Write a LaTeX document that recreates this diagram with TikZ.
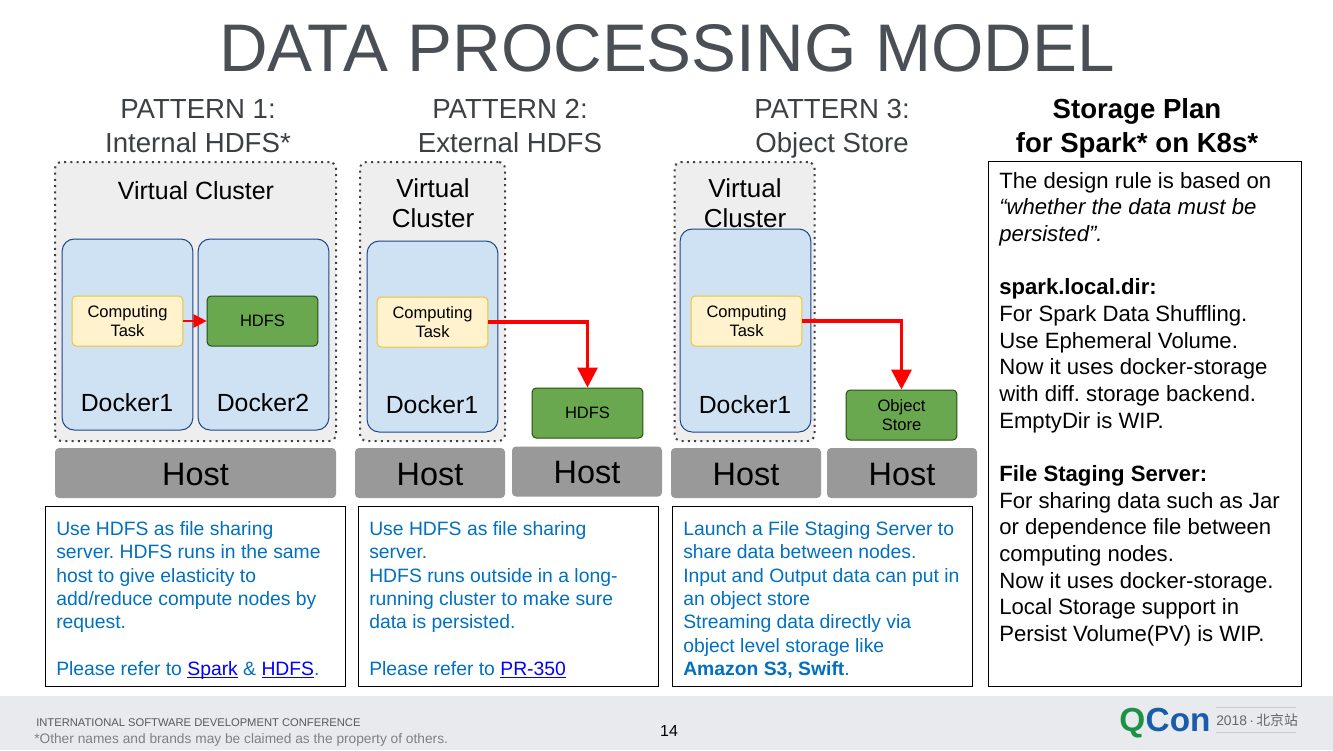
\documentclass[tikz,border=0pt]{standalone}
\usepackage{fontspec}
\setmainfont{Liberation Sans}
\newfontfamily\cjkfont{Noto Sans CJK SC}
\definecolor{titlegray}{RGB}{74, 79, 85}
\definecolor{headgray}{RGB}{60, 64, 67}
\definecolor{clusterfill}{RGB}{238, 238, 238}
\definecolor{dockerfill}{RGB}{207, 226, 243}
\definecolor{dockerline}{RGB}{28, 69, 135}
\definecolor{taskfill}{RGB}{255, 242, 204}
\definecolor{taskline}{RGB}{241, 194, 50}
\definecolor{storefill}{RGB}{106, 168, 79}
\definecolor{storeline}{RGB}{39, 78, 19}
\definecolor{hostfill}{RGB}{153, 153, 153}
\definecolor{noteblue}{RGB}{0, 112, 192}
\definecolor{linkblue}{RGB}{0, 0, 255}
\definecolor{footfill}{RGB}{232, 234, 237}
\definecolor{qgreen}{RGB}{30, 145, 70}
\definecolor{qblue}{RGB}{24, 92, 170}
\usetikzlibrary{arrows.meta, positioning}
\frenchspacing
\newcommand{\reflink}[1]{{\color{linkblue}\underline{\smash{#1}}}}
\tikzset{
  cluster/.style={draw=black!75, fill=clusterfill, rounded corners=5pt, line width=1.5pt, dash pattern=on 1.5pt off 3.2pt, outer sep=0pt},
  docker/.style={draw=dockerline, fill=dockerfill, rounded corners=9pt, line width=0.75pt, minimum width=98pt},
  dockerlabel/.style={font=\fontsize{18.6}{23}\selectfont},
  task/.style={draw=taskline, fill=taskfill, rounded corners=3pt, line width=0.75pt, minimum width=83pt, minimum height=37.5pt, align=center, inner sep=0pt, font=\fontsize{12.4}{14.7}\selectfont},
  store/.style={draw=storeline, fill=storefill, rounded corners=3pt, line width=0.75pt, minimum width=83pt, minimum height=37.5pt, align=center, inner sep=0pt, font=\fontsize{12.4}{14.7}\selectfont},
  host/.style={fill=hostfill, rounded corners=3pt, minimum height=37.5pt, inner sep=0pt, text height=18.6pt, text depth=0pt, font=\fontsize{24.3}{30}\selectfont},
  head/.style={align=center, text=headgray, inner sep=0pt, font=\fontsize{20.7}{25.5}\selectfont},
  frame/.style={draw=black, line width=0.75pt, anchor=north west, minimum height=135.3pt, minimum width=225pt},
  note/.style={anchor=north west, align=left, inner sep=0pt, text=noteblue, font=\fontsize{14.5}{17.55}\selectfont},
  link/.style={-{Triangle[length=15pt, width=15pt]}, red, line width=2.6pt},
}
\begin{document}
\begin{tikzpicture}[x=0.75pt, y=-0.75pt]
  \useasboundingbox (0,0) rectangle (1333,750);
  \fill[white] (0,0) rectangle (1333,750);
  \fill[footfill] (0,696) rectangle (1333,750);
  \node[text=titlegray, font=\fontsize{50.5}{60}\selectfont, inner sep=0pt] (title) at (667,48) {DATA PROCESSING MODEL};

  % Pattern 1
  \node[head] (head1) at (198,126.5) {PATTERN 1:\\Internal HDFS*};
  \node[cluster, minimum width=210.75pt, minimum height=209.25pt] (vc1) at (195.5,301.5) {};
  \node[font=\fontsize{18.7}{23}\selectfont] (vc1label) at (196,190.5) {Virtual Cluster};
  \node[docker, minimum height=143.25pt] (d11) at (127.5,334.5) {};
  \node[docker, minimum height=143.25pt] (d12) at (263.5,334.5) {};
  \node[dockerlabel] (d11label) at (127,403) {Docker1};
  \node[dockerlabel] (d12label) at (263,403) {Docker2};
  \node[task] (task1) at (127.5,321) {Computing\\Task};
  \node[store] (hdfs1) at (262.5,321) {HDFS};
  \draw[-{Triangle[length=10pt, width=10pt]}, red, line width=1.5pt] (task1.east) -- (hdfs1.west);
  \node[host, minimum width=210.75pt] (host1) at (195.5,473) {Host};

  % Pattern 2
  \node[head] (head2) at (510,125.5) {PATTERN 2:\\External HDFS};
  \node[cluster, minimum width=108.75pt, minimum height=209.25pt] (vc2) at (432.5,301.5) {};
  \node[align=center, font=\fontsize{19.5}{22.5}\selectfont] (vc2label) at (433,203) {Virtual\\Cluster};
  \node[docker, minimum height=143.25pt] (d21) at (432.5,336.5) {};
  \node[dockerlabel] (d21label) at (432,404.5) {Docker1};
  \node[task] (task2) at (432.5,322) {Computing\\Task};
  \node[store] (hdfs2) at (587.5,413) {HDFS};
  \draw[link] (task2.east) -| (hdfs2.north);
  \node[host, minimum width=112.5pt] (host21) at (430,473) {Host};
  \node[host, minimum width=112.5pt] (host22) at (587,471.5) {Host};

  % Pattern 3
  \node[head] (head3) at (832,129) {PATTERN 3:\\Object Store};
  \node[cluster, minimum width=105pt, minimum height=209.25pt] (vc3) at (744.5,301.5) {};
  \node[align=center, font=\fontsize{19.5}{22.5}\selectfont] (vc3label) at (745,203) {Virtual\\Cluster};
  \node[docker, minimum height=152.25pt] (d31) at (745.5,330.5) {};
  \node[dockerlabel] (d31label) at (745,404.5) {Docker1};
  \node[task] (task3) at (746.5,321) {Computing\\Task};
  \node[store] (objstore) at (901.5,415) {Object\\Store};
  \draw[link] (task3.east) -| (objstore.north);
  \node[host, minimum width=112.5pt] (host31) at (746,473) {Host};
  \node[host, minimum width=112.5pt] (host32) at (902,473) {Host};

  % Notes
  \node[frame] (frame1) at (44.7,505.7) {};
  \node[note] (note1) at (56,521) {Use HDFS as file sharing\\server. HDFS runs in the same\\host to give elasticity to\\add/reduce compute nodes by\\request.\\[17.55pt]Please refer to \reflink{Spark} \& \reflink{HDFS}.};
  \node[frame] (frame2) at (357.7,505.7) {};
  \node[note] (note2) at (369,521) {Use HDFS as file sharing\\server.\\HDFS runs outside in a long-\\running cluster to make sure\\data is persisted.\\[17.55pt]Please refer to \reflink{PR-350}};
  \node[frame] (frame3) at (671.7,505.7) {};
  \node[note] (note3) at (683,521) {Launch a File Staging Server to\\share data between nodes.\\Input and Output data can put in\\an object store\\Streaming data directly via\\object level storage like\\\textbf{Amazon S3, Swift}.};

  % Storage plan
  \node[head, text=black, font=\fontsize{20.7}{25.5}\selectfont\bfseries] (head4) at (1137,128) {Storage Plan\\for Spark* on K8s*};
  \node[frame, minimum width=234.75pt, minimum height=394.2pt] (frame4) at (987.7,160.7) {};
  \node[anchor=north west, align=left, inner sep=0pt, font=\fontsize{16.6}{20}\selectfont] (plan) at (999,172) {The design rule is based on\\\textit{“whether the data must be}\\\textit{persisted”.}\\[20pt]\textbf{spark.local.dir:}\\For Spark Data Shuffling.\\Use Ephemeral Volume.\\Now it uses docker-storage\\with diff. storage backend.\\EmptyDir is WIP.\\[20pt]\textbf{File Staging Server:}\\For sharing data such as Jar\\or dependence file between\\computing nodes.\\Now it uses docker-storage.\\Local Storage support in\\Persist Volume(PV) is WIP.};

  % Footer
  \node[anchor=west, inner sep=0pt, text=black!65, font=\fontsize{8.4}{10}\selectfont] (conf) at (36,723) {INTERNATIONAL SOFTWARE DEVELOPMENT CONFERENCE};
  \node[anchor=west, inner sep=0pt, text=black!50, font=\fontsize{10.3}{12}\selectfont] (others) at (34,740) {*Other names and brands may be claimed as the property of others.};
  \node[font=\fontsize{12}{14}\selectfont, inner sep=0pt] (pageno) at (669,731) {14};
  \node[anchor=base west, inner sep=0pt, text=qgreen, font=\fontsize{25}{30}\selectfont\bfseries] (qlogo) at (1119,731) {Q};
  \node[base right=0pt of qlogo, inner sep=0pt, text=qblue, font=\fontsize{25}{30}\selectfont\bfseries] (conlogo) {Con};
  \node[anchor=west, inner sep=0pt, text=black!60, font=\fontsize{10.4}{13}\selectfont] (qyear) at (1216,720) {2018\,·\,{\cjkfont 北京站}};
  \coordinate (rule1a) at (1216,707);
  \coordinate (rule1b) at (1296,707);
  \coordinate (rule2a) at (1216,732);
  \coordinate (rule2b) at (1296,732);
  \draw[black!20, line width=0.5pt] (rule1a) -- (rule1b);
  \draw[black!20, line width=0.5pt] (rule2a) -- (rule2b);
\end{tikzpicture}
\end{document}
